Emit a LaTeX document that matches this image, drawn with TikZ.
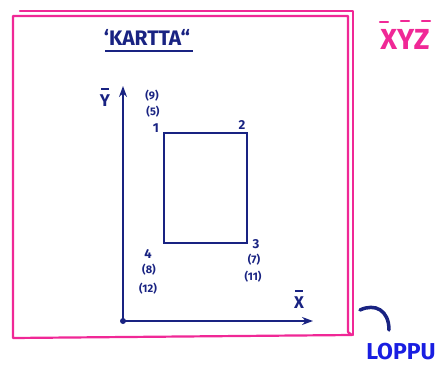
\documentclass[tikz,border=0pt]{standalone}
\usepackage{fontspec}
\setmainfont{Fira Sans}
\usetikzlibrary{arrows.meta}
\definecolor{pinkline}{RGB}{240,40,150}
\definecolor{inkblue}{RGB}{25,35,130}
\definecolor{brightblue}{RGB}{25,30,225}
\begin{document}
\begin{tikzpicture}[x=1pt,y=-1pt,
  frame/.style={draw=pinkline,line width=2.2pt,line join=round,line cap=round},
  ink/.style={draw=inkblue,line width=1.8pt},
  lbl/.style={text=inkblue,font=\bfseries\fontsize{13}{14}\selectfont,inner sep=0pt},
  smalllbl/.style={text=inkblue,font=\bfseries\fontsize{11}{12}\selectfont,inner sep=0pt},
  axlbl/.style={text=inkblue,font=\bfseries\fontsize{17}{18}\selectfont,inner sep=0pt},
  pinklbl/.style={text=pinkline,font=\bfseries\fontsize{29}{30}\selectfont,inner sep=0pt},
  bar/.style={draw=inkblue,line width=1.6pt},
  pinkbar/.style={draw=pinkline,line width=2.4pt,line cap=round}]
\useasboundingbox (0,0) rectangle (445,367);
% frame
\draw[frame] (13,338) -- (13,16) -- (348,16) -- (348,332) -- (352,335) -- (13,338);
\draw[frame] (20,11) -- (353,11) -- (353,335);
% title
\node[text=inkblue,font=\bfseries\fontsize{21}{22}\selectfont,inner sep=0pt] (title) at (147,37) {‘KARTTA“};
\draw[ink,line width=2.4pt] (105,51) -- (193,51);
% axes
\coordinate (o) at (123,321);
\coordinate (ytop) at (123,86);
\coordinate (xend) at (313,321);
\fill[inkblue] (o) circle (3);
\draw[ink,-{Stealth[length=11pt,width=8pt]}] (o) -- (ytop);
\draw[ink,-{Stealth[length=11pt,width=8pt]}] (o) -- (xend);
\node[axlbl] (ylab) at (105,101) {Y};
\draw[bar] (101,89) -- (109,89);
\node[axlbl] (xlab) at (299,303) {X};
\draw[bar] (295,291) -- (303,291);
% rectangle
\node[draw=inkblue,line width=1.6pt,minimum width=83pt,minimum height=110pt,inner sep=0pt] (box) at (205.5,188) {};
% labels
\node[lbl] (n1) at (156,128) {1};
\node[lbl] (n2) at (242,125) {2};
\node[lbl] (n3) at (256,244) {3};
\node[lbl] (n4) at (148,254) {4};
\node[smalllbl] (p9) at (152,96) {(9)};
\node[smalllbl] (p5) at (153,112) {(5)};
\node[smalllbl] (p7) at (254,260) {(7)};
\node[smalllbl] (p11) at (253,277) {(11)};
\node[smalllbl] (p8) at (149,270) {(8)};
\node[smalllbl] (p12) at (148,289) {(12)};
% XYZ
\node[pinklbl] (xyz) at (405,39) {XYZ};
\draw[pinkbar] (380,22) -- (388,22);
\draw[pinkbar] (401,21) -- (409,21);
\draw[pinkbar] (422,21) -- (430,21);
% LOPPU
\node[text=brightblue,font=\bfseries\fontsize{23}{24}\selectfont,inner sep=0pt] (loppu) at (401,352) {LOPPU};
\draw[draw=inkblue,line width=3.5pt,line cap=round] (360,310) .. controls (375,303) and (389,310) .. (389,330);
\end{tikzpicture}
\end{document}
